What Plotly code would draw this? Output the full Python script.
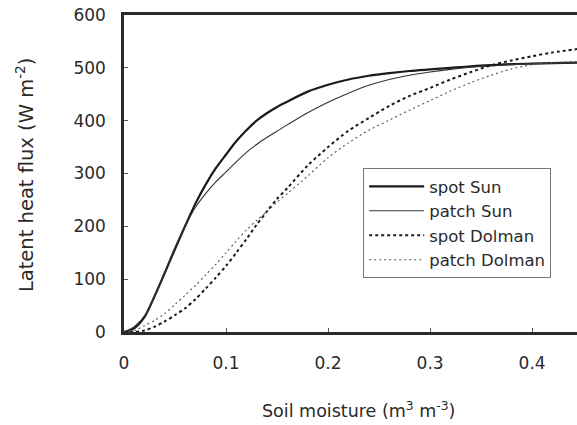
import plotly.graph_objects as go

soil_moisture = [0, 0.01, 0.02, 0.03, 0.04, 0.05, 0.06, 0.07, 0.08, 0.09, 0.10, 0.11, 0.12,
                 0.13, 0.14, 0.15, 0.16, 0.18, 0.20, 0.22, 0.24, 0.26, 0.28, 0.30, 0.32,
                 0.34, 0.36, 0.38, 0.40, 0.42, 0.45]

spot_sun = [0, 7, 28, 68, 112, 157, 201, 243, 279, 310, 336, 361, 382, 400, 414, 426, 436,
            455, 468, 478, 485, 490, 494, 497, 500, 503, 505, 507, 508, 509, 510]
patch_sun = [0, 10, 30, 68, 114, 160, 200, 236, 262, 284, 303, 322, 340, 355, 368, 380, 392,
             415, 435, 452, 467, 478, 486, 492, 497, 501, 504, 506, 508, 509, 510]
spot_dolman = [0, 0, 3, 10, 20, 32, 45, 62, 82, 103, 125, 150, 176, 203, 228, 252, 272,
               315, 350, 381, 405, 428, 447, 462, 478, 492, 505, 514, 522, 529, 537]
patch_dolman = [0, 3, 12, 22, 35, 52, 70, 88, 108, 128, 150, 172, 193, 211, 228, 246, 262,
                295, 330, 358, 382, 401, 420, 438, 456, 472, 486, 498, 506, 510, 512]

x_ticks = [0, 0.1, 0.2, 0.3, 0.4]
x_tick_labels = ["0", "0.1", "0.2", "0.3", "0.4"]
y_ticks = [0, 100, 200, 300, 400, 500, 600]

FONT = "DejaVu Sans"
INK = "#2a2a2a"

fig = go.Figure()
fig.add_trace(go.Scatter(x=soil_moisture, y=spot_sun, mode="lines", name="spot Sun",
                         line=dict(color="#1a1a1a", width=2.2, shape="spline", smoothing=0.8)))
fig.add_trace(go.Scatter(x=soil_moisture, y=patch_sun, mode="lines", name="patch Sun",
                         line=dict(color="#333333", width=1.1, shape="spline", smoothing=0.8)))
fig.add_trace(go.Scatter(x=soil_moisture, y=spot_dolman, mode="lines", name="spot Dolman",
                         line=dict(color="#1a1a1a", width=2, dash="3px,3px", shape="spline", smoothing=0.8)))
fig.add_trace(go.Scatter(x=soil_moisture, y=patch_dolman, mode="lines", name="patch Dolman",
                         line=dict(color="#555555", width=1.1, dash="2px,3px", shape="spline", smoothing=0.8)))

fig.update_layout(
    width=577, height=425,
    margin=dict(l=124, r=0, t=15, b=93, pad=0),
    paper_bgcolor="white", plot_bgcolor="white",
    font=dict(family=FONT, size=17, color=INK),
    showlegend=True,
    legend=dict(x=0.528, y=0.517, xanchor="left", yanchor="top",
                bgcolor="white", bordercolor="#777777", borderwidth=1,
                font=dict(family=FONT, size=16.5, color=INK),
                tracegroupgap=0, itemwidth=55),
    xaxis=dict(range=[0, 0.444], tickmode="array", tickvals=x_ticks, ticktext=x_tick_labels,
               showgrid=False, zeroline=False, showline=True, linecolor=INK, linewidth=2.5,
               mirror=True, ticks="inside", ticklen=4, tickwidth=1, tickcolor="#555",
               ticklabelstandoff=14, tickfont=dict(family=FONT, size=17, color=INK)),
    yaxis=dict(range=[0, 600], tickmode="array", tickvals=y_ticks,
               showgrid=False, zeroline=False, showline=True, linecolor=INK, linewidth=2.5,
               ticks="inside", ticklen=4, tickwidth=1, tickcolor="#555",
               ticklabelstandoff=12, tickfont=dict(family=FONT, size=17, color=INK)),
    annotations=[
        dict(text="Soil moisture (m<sup>3</sup> m<sup>-3</sup>)", xref="paper", yref="paper",
             x=0.517, y=-0.246, xanchor="center", yanchor="middle", showarrow=False,
             font=dict(family=FONT, size=17.5, color=INK)),
        dict(text="Latent heat flux (W m<sup>-2</sup>)", xref="paper", yref="paper",
             x=-0.2185, y=0.495, xanchor="center", yanchor="middle", showarrow=False,
             textangle=-90, font=dict(family=FONT, size=19.5, color=INK)),
    ],
)

fig.write_html("out.html")
